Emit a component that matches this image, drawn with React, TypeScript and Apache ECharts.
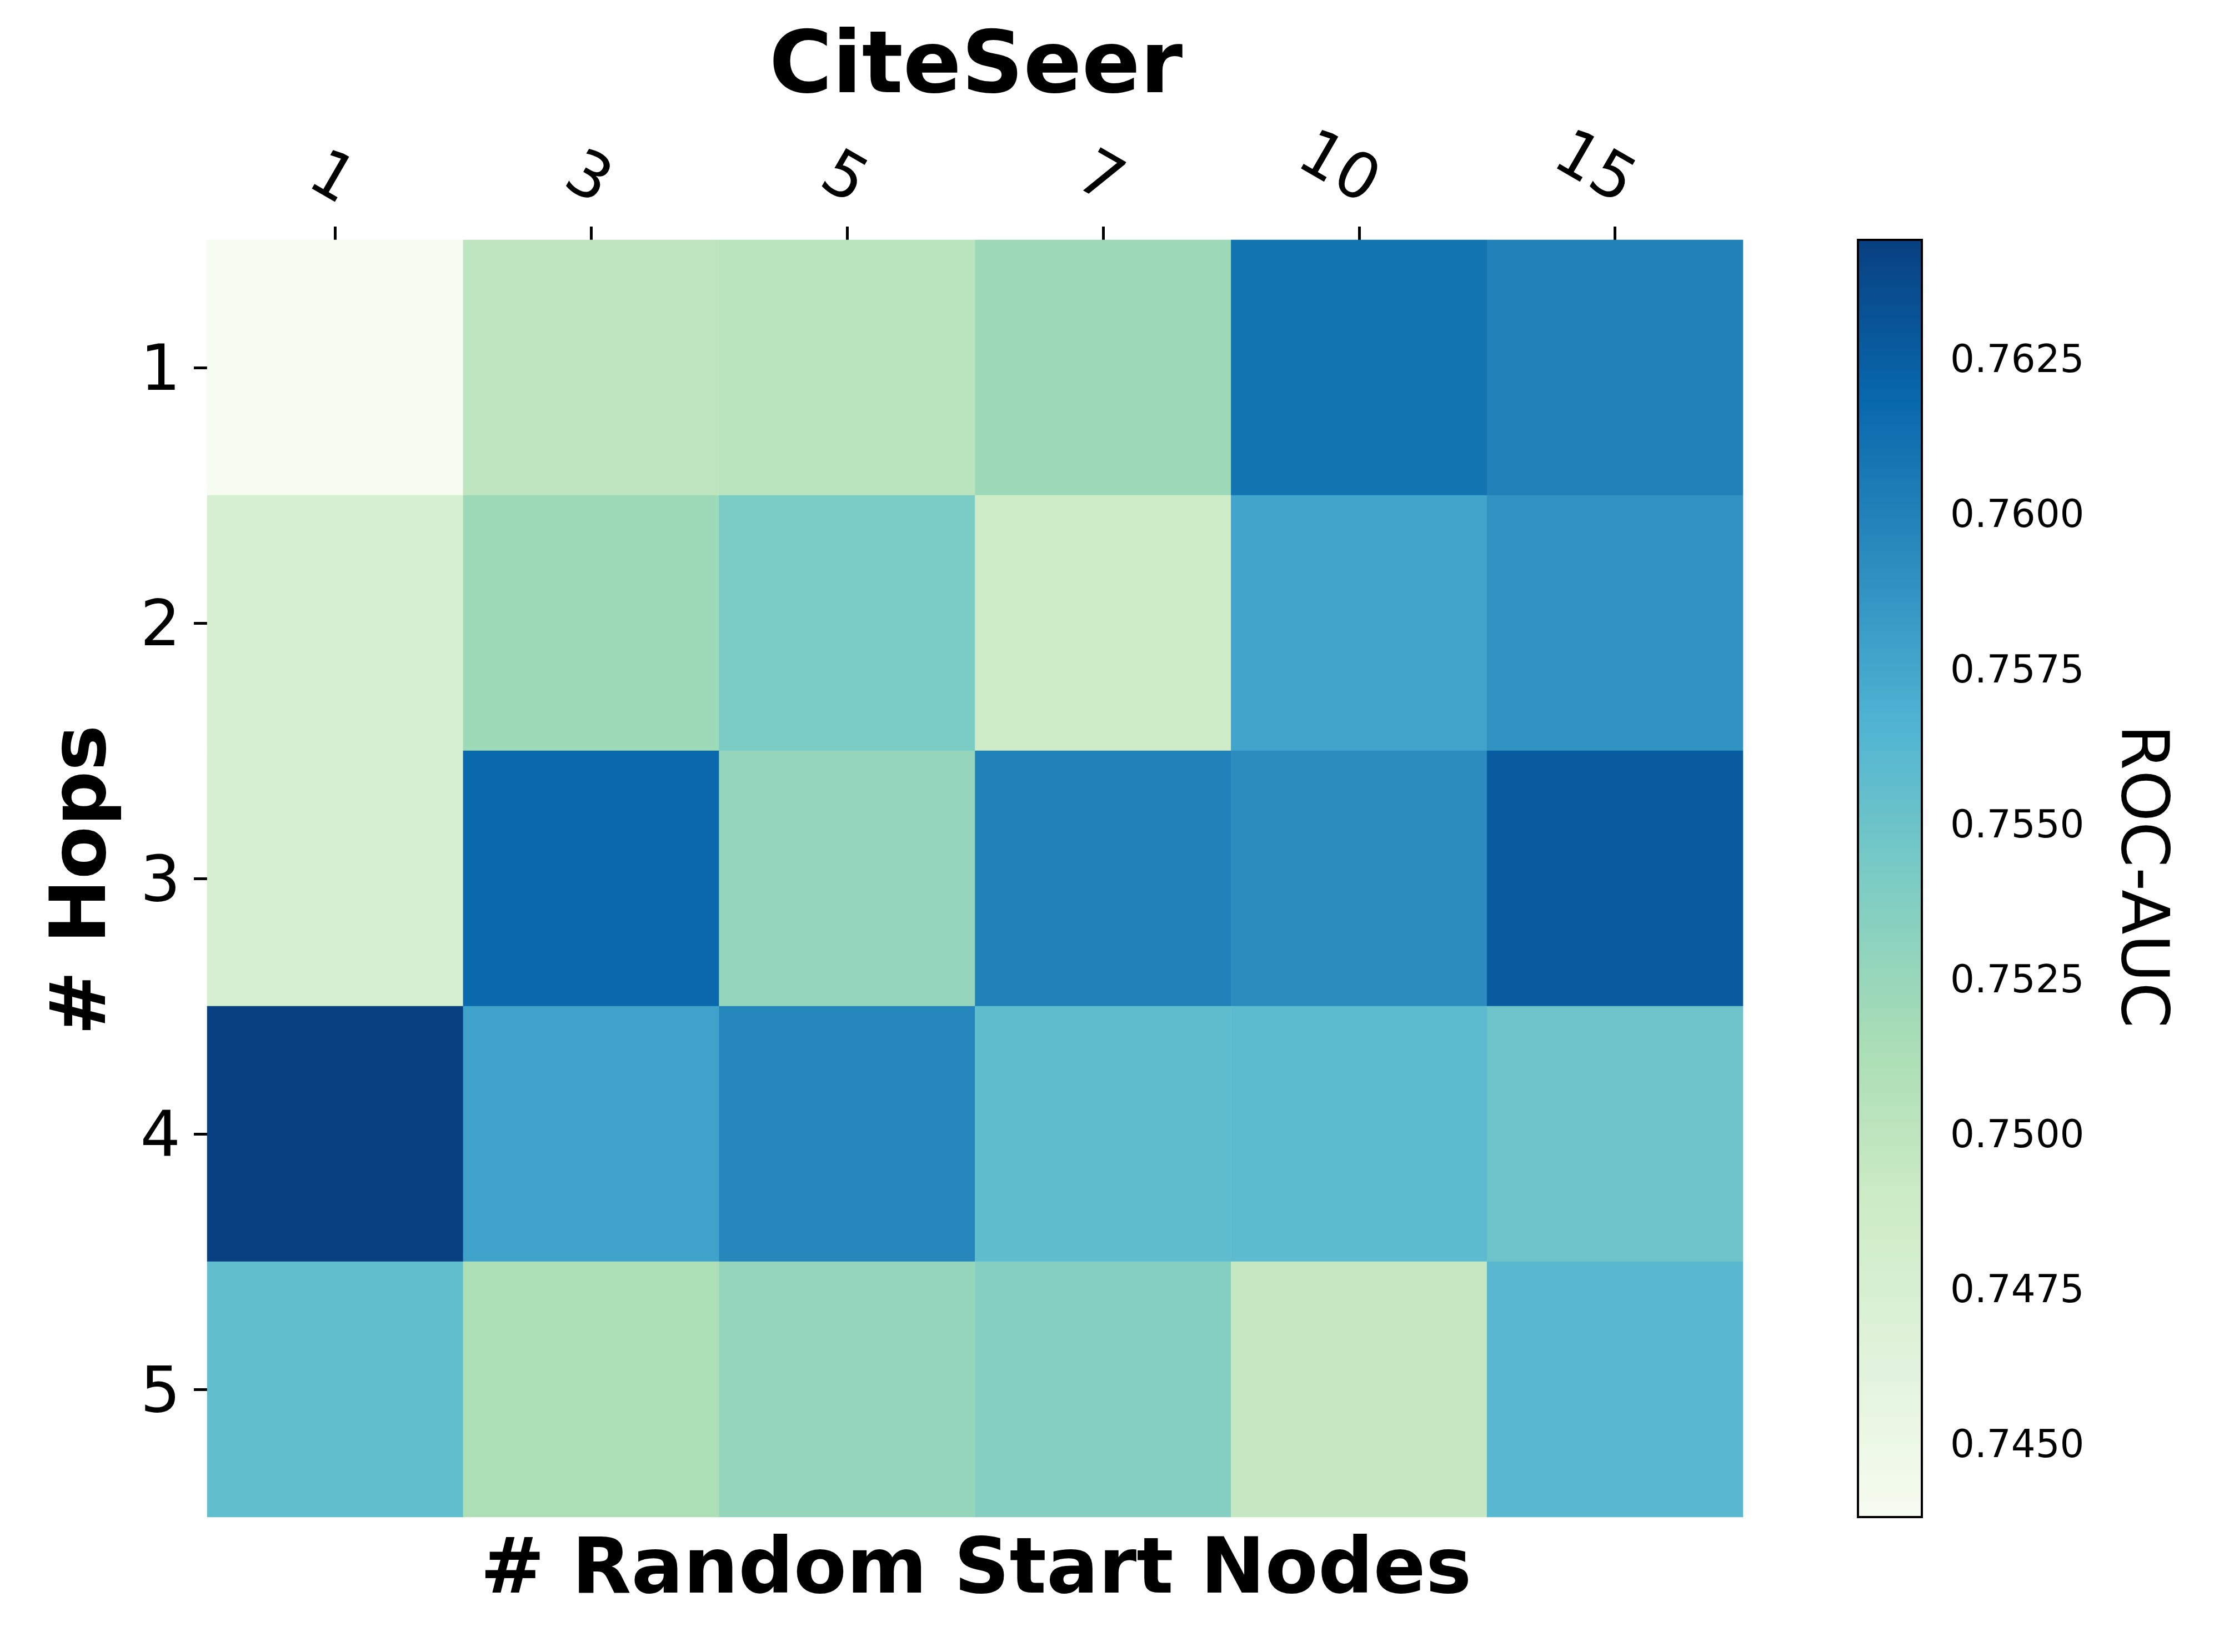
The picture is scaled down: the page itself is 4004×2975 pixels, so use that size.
import React, { useEffect, useRef } from 'react';
import * as echarts from 'echarts';

// ---- data ----
const xCategories = ['1', '3', '5', '7', '10', '15']; // # Random Start Nodes
const yCategories = ['1', '2', '3', '4', '5']; // # Hops

const hops1 = [0.7438, 0.7500, 0.7504, 0.7522, 0.7610, 0.7600];
const hops2 = [0.7476, 0.7521, 0.7541, 0.7486, 0.7577, 0.7589];
const hops3 = [0.7476, 0.7618, 0.7527, 0.7600, 0.7593, 0.7627];
const hops4 = [0.7644, 0.7578, 0.7597, 0.7557, 0.7559, 0.7550];
const hops5 = [0.7556, 0.7512, 0.7527, 0.7536, 0.7495, 0.7562];
const rocAuc = [hops1, hops2, hops3, hops4, hops5];

const colorbarTicks = [0.745, 0.7475, 0.75, 0.7525, 0.755, 0.7575, 0.76, 0.7625];
const vMin = 0.74382;
const vMax = 0.76442;

const gnbu = ['#f7fcf0', '#e0f3db', '#ccebc5', '#a8ddb5', '#7bccc4', '#4eb3d3', '#2b8cbe', '#0868ac', '#084081'];

const FONT = 'DejaVu Sans';

export default function App() {
  const ref = useRef<HTMLDivElement>(null);
  useEffect(() => {
    document.body.style.margin = '0';
    const chart = echarts.init(ref.current as HTMLDivElement, null, { renderer: 'svg' });
    const data: number[][] = [];
    rocAuc.forEach((row, yi) => row.forEach((v, xi) => data.push([xi, yi, v])));

    const textStyle = (text: string, size: number, weight: string, align = 'center') => ({
      text,
      fontSize: size,
      fontWeight: weight,
      fontFamily: FONT,
      fill: '#000',
      align,
      verticalAlign: 'middle',
      textAlign: align,
      textVerticalAlign: 'middle',
    });

    chart.setOption({
      animation: false,
      backgroundColor: '#ffffff',
      grid: [
        { left: 373, top: 432, width: 2765, height: 2300 },
        {
          left: 3345, top: 432, width: 115, height: 2300,
          show: true, borderColor: '#000', borderWidth: 4, backgroundColor: 'transparent', z: 10,
        },
      ],
      xAxis: [
        {
          type: 'category', gridIndex: 0, position: 'top', data: xCategories,
          axisLine: { show: false },
          axisTick: { show: true, alignWithLabel: true, length: 24, lineStyle: { color: '#000', width: 5 } },
          axisLabel: {
            interval: 0, rotate: 30, align: 'right', verticalAlign: 'bottom', margin: 48,
            fontSize: 114, color: '#000', fontFamily: FONT,
          },
          splitLine: { show: false }, splitArea: { show: false },
        },
        { type: 'value', gridIndex: 1, show: false, min: 0, max: 1 },
      ],
      yAxis: [
        {
          type: 'category', gridIndex: 0, data: yCategories, inverse: true,
          axisLine: { show: false },
          axisTick: { show: true, alignWithLabel: true, length: 24, lineStyle: { color: '#000', width: 5 } },
          axisLabel: { interval: 0, margin: 48, fontSize: 114, color: '#000', fontFamily: FONT },
          splitLine: { show: false }, splitArea: { show: false },
        },
        {
          type: 'value', gridIndex: 1, position: 'right', min: vMin, max: vMax,
          axisLine: { show: false },
          splitLine: { show: false },
          axisTick: { show: true, length: 24, lineStyle: { color: '#000', width: 4 }, customValues: colorbarTicks },
          axisLabel: {
            customValues: colorbarTicks, margin: 51, fontSize: 69, color: '#000', fontFamily: FONT,
            formatter: (v: number) => v.toFixed(4),
          },
        },
      ],
      visualMap: {
        type: 'continuous', min: vMin, max: vMax, seriesIndex: 0,
        inRange: { color: gnbu }, calculable: false, show: true, orient: 'vertical',
        left: 3345, top: 432, itemWidth: 115, itemHeight: 2300, padding: 0,
        hoverLink: false,
      },
      series: [
        {
          type: 'heatmap', xAxisIndex: 0, yAxisIndex: 0, data,
          itemStyle: { borderWidth: 0 },
          emphasis: { disabled: true },
        },
      ],
      graphic: [
        { type: 'text', x: 1757, y: 112, style: textStyle('CiteSeer', 155, 'bold') },
        { type: 'text', x: 1757, y: 2820, style: textStyle('# Random Start Nodes', 139, 'bold') },
        { type: 'text', x: 141, y: 1585, rotation: Math.PI / 2, style: textStyle('# Hops', 139, 'bold') },
        { type: 'text', x: 3862, y: 1578, rotation: -Math.PI / 2, style: textStyle('ROC-AUC', 118, 'normal') },
      ],
    });
    return () => chart.dispose();
  }, []);
  return <div ref={ref} style={{ width: 4004, height: 2975 }} />;
}
